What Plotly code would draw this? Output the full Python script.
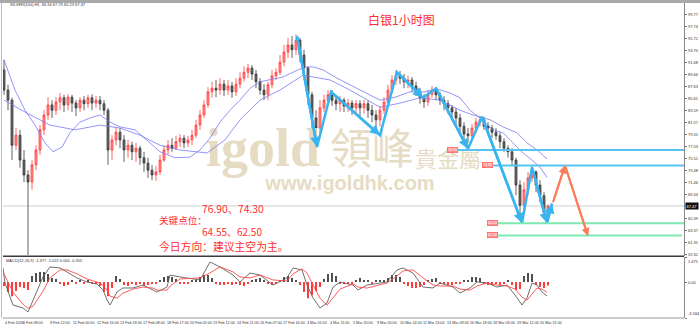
import plotly.graph_objects as go

# ---------------- data ----------------
FIRST_OPEN = 90.4
CLOSE = [87.0, 85.3, 77.7, 79.4, 75.2, 72.7, 71.5, 74.4, 76.9, 80.3,
         82.8, 84.5, 83.6, 85.0, 85.7, 84.5, 85.8, 84.8, 84.0, 85.3,
         84.7, 85.7, 84.8, 85.3, 84.7, 83.6, 76.9, 78.6, 79.9, 78.6,
         76.9, 77.7, 76.6, 77.2, 75.6, 74.7, 73.5, 72.7, 73.2, 75.2,
         76.9, 77.7, 77.2, 78.3, 78.9, 78.1, 78.6, 79.4, 81.1, 82.8,
         84.5, 86.7, 87.3, 87.0, 88.0, 87.0, 87.7, 86.7, 88.0, 89.0,
         90.0, 90.7, 89.7, 88.4, 87.0, 86.2, 87.9, 89.4, 90.0, 91.7,
         93.4, 94.6, 93.8, 95.4, 92.9, 90.7, 86.2, 82.3, 80.6, 84.0,
         85.3, 86.2, 85.3, 84.7, 85.3, 84.3, 84.8, 84.0, 84.7, 84.0,
         84.7, 83.6, 82.8, 82.0, 83.6, 85.0, 87.0, 88.7, 89.5, 89.0,
         88.4, 88.7, 87.7, 86.7, 85.7, 85.0, 86.3, 87.0, 86.2, 85.3,
         84.7, 84.0, 83.3, 82.3, 80.9, 79.6, 79.3, 80.6, 81.6, 82.0,
         80.9, 80.6, 79.9, 79.3, 78.3, 77.2, 76.6, 75.2, 71.0, 67.6,
         70.2, 72.2, 73.2, 71.0, 69.2, 66.34, 67.47]
HIGH = [92.1, 87.9, 85.7, 80.6, 80.3, 76.9, 73.5, 75.2, 77.7, 81.1,
        83.6, 85.8, 85.3, 85.8, 86.5, 86.2, 86.3, 86.2, 85.3, 85.8,
        86.0, 86.2, 86.3, 86.0, 86.0, 85.3, 84.0, 79.4, 80.8, 80.6,
        79.4, 78.6, 78.3, 78.1, 77.6, 76.6, 75.6, 74.4, 74.2, 76.1,
        77.7, 78.6, 78.9, 79.3, 79.6, 79.4, 79.3, 80.3, 82.0, 83.6,
        85.3, 87.5, 88.4, 88.7, 89.0, 88.7, 88.7, 88.4, 89.0, 90.0,
        91.0, 91.4, 91.2, 90.4, 89.0, 88.0, 88.4, 90.4, 90.7, 92.9,
        94.6, 95.8, 96.1, 96.4, 95.8, 93.8, 91.0, 86.7, 83.6, 85.3,
        86.2, 87.0, 87.0, 86.0, 86.0, 85.7, 85.5, 85.3, 85.3, 85.3,
        85.3, 85.2, 84.5, 83.6, 84.3, 85.8, 87.9, 89.5, 90.4, 90.2,
        89.7, 89.4, 89.2, 88.4, 87.3, 86.3, 87.0, 87.7, 87.5, 86.7,
        86.0, 85.3, 84.5, 84.0, 83.0, 81.6, 80.6, 81.3, 82.3, 82.6,
        82.5, 81.6, 81.1, 80.6, 79.9, 78.9, 77.7, 77.2, 75.6, 71.8,
        71.5, 73.2, 74.2, 73.5, 71.8, 69.8, 67.73]
LOW = [86.2, 83.6, 75.2, 76.9, 73.9, 71.5, 59.2, 70.2, 73.5, 76.1,
       79.4, 82.0, 82.3, 82.8, 83.6, 83.3, 83.6, 83.3, 82.6, 83.3,
       83.6, 84.0, 83.6, 84.0, 83.6, 82.8, 74.4, 75.2, 77.7, 77.2,
       74.9, 75.6, 75.2, 74.9, 74.4, 73.2, 72.2, 71.8, 71.7, 72.7,
       74.9, 76.1, 76.6, 76.9, 77.4, 77.2, 77.4, 77.7, 78.9, 80.3,
       82.3, 84.0, 85.7, 85.8, 86.2, 86.0, 86.2, 85.7, 86.0, 87.3,
       88.4, 89.0, 88.7, 87.3, 86.2, 85.3, 85.3, 87.3, 88.7, 89.5,
       91.0, 92.4, 92.4, 92.9, 91.7, 89.5, 84.5, 80.3, 78.6, 79.9,
       83.3, 84.5, 84.3, 83.6, 83.3, 83.3, 83.3, 82.8, 83.0, 82.6,
       83.0, 82.3, 81.6, 80.6, 80.9, 83.0, 84.5, 86.5, 87.9, 88.0,
       87.3, 87.3, 86.7, 86.0, 84.7, 84.0, 84.3, 85.7, 85.3, 84.5,
       83.6, 83.0, 82.3, 81.1, 79.9, 78.6, 78.1, 78.6, 79.9, 80.9,
       80.3, 79.6, 78.9, 78.6, 77.2, 76.6, 75.6, 74.4, 69.3, 65.4,
       66.1, 69.3, 71.5, 69.8, 68.1, 65.4, 65.23]

# moving averages (bar index, price)
MA_A_X = [0, 2.75, 5.25, 7.75, 10.25, 12.25, 14.5, 16.5, 19, 21.5, 24, 26.5, 29, 32.75,
          36.5, 39, 42.75, 46.5, 49, 51.5, 54, 56.5, 59, 61.5, 64, 66.5, 69.75, 73.5,
          75.75, 77.25, 79.75, 83.25, 86.5, 90.25, 94, 97.75, 101.5, 105.25, 108.25,
          111.5, 114, 116.5, 119, 122.25, 124.75, 127.25, 129.75, 132, 134, 135.75]
MA_A_Y = [92.1, 87.0, 83.6, 81.1, 78.1, 76.6, 77.4, 79.8, 81.6, 82.3, 82.8, 81.6, 80.8, 80.3,
          78.1, 76.6, 75.6, 75.7, 76.9, 78.9, 81.6, 83.6, 85.3, 87.3, 88.4, 88.7, 89.2, 90.4,
          90.9, 90.9, 90.4, 89.0, 87.9, 86.7, 85.3, 85.8, 86.7, 86.7, 87.2,
          86.5, 85.7, 83.6, 82.3, 80.3, 79.8, 78.1, 76.4, 75.2, 74.0, 72.3]
MA_B_X = [0, 5.25, 11.5, 17.75, 24, 29, 34, 39, 44, 50.75, 55.25, 59, 64, 69, 74.75,
          81.5, 86.5, 94, 99, 104, 109, 114, 117.25, 121.5, 124.75, 128.25, 130.75,
          133.25, 135.75]
MA_B_Y = [85.3, 83.3, 81.1, 80.3, 81.1, 80.6, 79.4, 77.7, 76.9, 76.4, 78.6, 82.0, 85.3,
          87.0, 89.5, 88.7, 87.0, 84.1, 84.8, 85.7, 85.3, 83.6, 82.8, 82.0, 80.8, 79.8,
          78.1, 76.9, 75.4]

# hand-drawn analysis lines
ZIG_X = [73.25, 78.25, 81.75, 94.0, 98.25, 104.75, 108.0, 116.0, 119.5, 129.5, 132.0, 135.75, 137.0]
ZIG_Y = [96.1, 77.4, 86.7, 79.4, 90.0, 85.7, 87.3, 77.1, 82.5, 64.6, 74.0, 64.6, 67.9]
ORANGE_X = [137.25, 140.25, 146.0]
ORANGE_Y = [68.1, 74.3, 62.4]

LEVELS = [76.90, 74.30, 64.55, 62.50]
LEVEL_BOX_BAR = [112.1, 120.9, 122.1, 122.1]
LEVEL_START_BAR = [113.5, 122.3, 123.5, 123.5]
LEVEL_END_BAR = [170.0, 170.0, 170.0, 169.5]
LEVEL_COLORS = ['#55c4f2', '#55c4f2', '#7de8b0', '#7de8b0']
CURRENT_PRICE = 67.47

PRICE_TICKS = [101.79, 99.77, 97.74, 95.72, 93.70, 91.68, 89.66, 87.63, 85.61, 83.59,
               81.57, 79.55, 77.53, 75.51, 73.48, 71.46, 69.44, 65.39, 63.37, 61.35, 59.32]

# MACD panel
MACD_X = [-0.25, 0.25, 2.25, 4.75, 6, 7.25, 9.75, 11.5, 14, 15.75, 18.25, 20.75, 23.25, 24.75,
          25.75, 26.5, 28.25, 29.75, 32.25, 34.75, 37.25, 38.25, 40.75, 41.5, 44, 49, 51.5,
          54, 57.25, 59, 61.5, 64, 67.25, 70.75, 72.25, 74.5, 75.75, 77.25, 79, 80.75, 82.25,
          84, 87.25, 88.5, 90.75, 94, 95.75, 98.25, 99.75, 102.25, 104.75, 107.25, 109,
          112.25, 114, 116.5, 118.25, 120.75, 123.25, 125.75, 127.75, 129.5, 130.75, 132,
          133.25, 134.5, 135.75]
MACD_MAIN = [1.39, -0.10, -2.28, -2.57, -2.97, -1.78, 0.50, 1.49, 1.39, 0.99, 0.40, 0.0, -0.20,
             -0.79, -1.78, -2.28, -0.99, -0.59, -0.59, -0.30, -0.79, -0.99, -0.50, 0.69, 0.50,
             0.20, 1.98, 1.49, 0.69, 0.0, 0.89, 0.69, -0.30, 0.40, 1.39, 1.19, -0.30, -1.58,
             -2.57, -2.08, -0.50, 0.0, -0.30, -0.79, -0.30, -0.10, 0.0, 1.19, 1.39, 0.89,
             -0.50, -0.59, -0.10, -0.50, -1.09, -0.59, 0.0, -0.10, -0.50, -0.30, -1.29,
             -2.28, -1.58, -0.10, -0.30, -0.99, -1.377]
MACD_SIGNAL = [1.0, 0.6, -1.0, -2.2, -2.6, -2.4, -0.9, 0.4, 1.2, 1.2, 0.8, 0.3, 0.0, -0.3,
               -0.8, -1.4, -1.6, -1.1, -0.7, -0.5, -0.6, -0.8, -0.8, -0.4, 0.3, 0.4, 0.9,
               1.5, 1.0, 0.5, 0.4, 0.7, 0.2, 0.1, 0.8, 1.3, 0.9, -0.3, -1.6, -2.3, -1.6,
               -0.7, -0.2, -0.5, -0.6, -0.3, -0.1, 0.6, 1.1, 1.2, 0.4, -0.3, -0.4, -0.4,
               -0.7, -0.8, -0.4, -0.1, -0.3, -0.4, -0.7, -1.5, -1.8, -1.2, -0.6, -0.7, -1.022]
MACD_HIST = [-0.4, -1.0, -1.4, -0.9, -0.5, -0.6, -0.8, 0.6, 0.9, 1.0,
             1.0, 0.8, 0.4, 0.3, -0.2, -0.4, -0.3, 0.1, -0.1, 0.1,
             -0.1, 0.1, -0.1, -0.2, -0.4, -1.0, -1.4, -0.6, 0.6, 0.3,
             -0.3, -0.4, -0.2, -0.3, -0.2, -0.4, -0.3, -0.2, -0.2, 0.2,
             0.5, 0.6, 0.5, 0.3, -0.1, -0.2, -0.1, 0.1, 0.2, 0.5,
             0.7, 0.7, 0.4, -0.2, -0.3, -0.3, -0.2, -0.3, -0.2, -0.3,
             -0.4, -0.2, 0.1, 0.3, 0.4, 0.2, -0.2, -0.3, -0.1, 0.2,
             0.5, 0.6, 0.4, 0.1, -0.3, -1.0, -1.6, -1.3, -0.9, -0.5,
             0.3, 0.8, 0.9, 0.6, -0.1, -0.2, -0.2, -0.1, 0.2, 0.4,
             0.2, 0.1, -0.1, 0.1, 0.1, 0.2, 0.4, 0.7, 0.7, 0.5,
             -0.2, -0.4, -0.6, -0.6, -0.5, -0.3, 0.1, 0.3, 0.4, -0.1,
             -0.2, -0.3, -0.3, -0.2, -0.1, 0.1, 0.2, 0.5, 0.5, 0.4,
             -0.1, -0.3, -0.3, -0.2, -0.3, -0.1, 0.1, -0.3, -0.8, -0.7,
             0.6, 0.9, 0.8, -0.3, -0.5, -0.6, -0.355]
MACD_TOP, MACD_BOTTOM = 2.475, -3.564

TIME_LABELS = ['4 Feb 2026', '6 Feb 08:00', '9 Feb 12:00', '11 Feb 00:00', '12 Feb 16:00',
               '13 Feb 19:00', '17 Feb 08:00', '18 Feb 17:00', '20 Feb 02:00', '23 Feb 12:00',
               '24 Feb 21:00', '26 Feb 07:00', '27 Feb 16:00', '3 Mar 01:00', '4 Mar 11:00',
               '5 Mar 20:00', '9 Mar 05:00', '10 Mar 14:00', '11 Mar 23:00', '13 Mar 09:00',
               '16 Mar 18:00', '18 Mar 03:00', '19 Mar 12:00', '20 Mar 21:00']
TIME_BARS = [-0.25, 4.2, 11.0, 16.8, 22.7, 28.5, 34.3, 40.2, 46.0, 51.8, 57.7, 63.5,
             69.3, 75.2, 81.0, 86.8, 92.7, 98.5, 104.3, 110.2, 116.0, 121.8, 127.7, 133.5]

# ---------------- geometry helpers ----------------
W, H = 700, 328
ML, MR, MT, MB = 3, 16, 3, 10
PW, PH = W - ML - MR, H - MT - MB
X0, X1 = -0.25, 170.0
P0, P1 = 59.04, 101.67


def px(x):
    return (x - ML) / PW


def py(y):
    return (H - MB - y) / PH


def bar_at(x):
    return X0 + (x - ML) / PW * (X1 - X0)


def price_at(y):
    return P1 - (y - 3) / (256 - 3) * (P1 - P0)


N = len(CLOSE)
BARS = list(range(N))
OPEN = [FIRST_OPEN] + CLOSE[:-1]

fig = go.Figure()

# watermark (behind the candles)
WM = '#e6dcc4'
fig.add_trace(go.Scatter(x=[bar_at(263)], y=[price_at(152)], mode='text', text=['igold'],
                         textfont=dict(family='Liberation Serif', size=54, color=WM, weight='bold'),
                         hoverinfo='skip'))
fig.add_trace(go.Scatter(x=[bar_at(372)], y=[price_at(153)], mode='text', text=['領峰'],
                         textfont=dict(family='Noto Sans CJK TC', size=42, color=WM),
                         hoverinfo='skip'))
fig.add_trace(go.Scatter(x=[bar_at(448)], y=[price_at(161)], mode='text', text=['貴金屬'],
                         textfont=dict(family='Noto Sans CJK TC', size=22, color=WM),
                         hoverinfo='skip'))
fig.add_trace(go.Scatter(x=[bar_at(350)], y=[price_at(185)], mode='text', text=['www.igoldhk.com'],
                         textfont=dict(family='Liberation Sans', size=20, color=WM, weight='bold'),
                         hoverinfo='skip'))

# moving averages
for xs, ys in ((MA_A_X, MA_A_Y), (MA_B_X, MA_B_Y)):
    fig.add_trace(go.Scatter(x=xs, y=ys, mode='lines', line=dict(color='#7b78f5', width=0.8),
                             hoverinfo='skip'))

# candles
fig.add_trace(go.Candlestick(
    x=BARS, open=OPEN, high=HIGH, low=LOW, close=CLOSE,
    increasing=dict(line=dict(color='#ff4040', width=0.8), fillcolor='#ff8c8c'),
    decreasing=dict(line=dict(color='#3a3a3a', width=0.8), fillcolor='#6a6a6a'),
    whiskerwidth=0, hoverinfo='skip'))

# analysis lines
fig.add_trace(go.Scatter(x=ZIG_X, y=ZIG_Y, mode='lines', line=dict(color='#38b4f0', width=2.5),
                         hoverinfo='skip'))
fig.add_trace(go.Scatter(x=ORANGE_X, y=ORANGE_Y, mode='lines', line=dict(color='#fb7d55', width=2),
                         hoverinfo='skip'))

# MACD
fig.add_trace(go.Bar(x=BARS, y=MACD_HIST, xaxis='x2', yaxis='y2', width=0.5,
                     marker=dict(color=['#505050' if v >= 0 else '#ff3b3b' for v in MACD_HIST],
                                 line=dict(width=0)), hoverinfo='skip'))
fig.add_trace(go.Scatter(x=MACD_X, y=MACD_MAIN, xaxis='x2', yaxis='y2', mode='lines',
                         line=dict(color='#606060', width=0.9), hoverinfo='skip'))
fig.add_trace(go.Scatter(x=MACD_X, y=MACD_SIGNAL, xaxis='x2', yaxis='y2', mode='lines',
                         line=dict(color='#ff4a4a', width=0.9), hoverinfo='skip'))

shapes = []
ann = []
# frame pieces
shapes.append(dict(type='rect', xref='paper', yref='paper', x0=-0.01, x1=1.03,
                   y0=1, y1=py(0), fillcolor='#a9a9a9', line=dict(width=0), layer='above'))
shapes.append(dict(type='line', xref='paper', yref='paper', x0=px(1.5), x1=px(1.5),
                   y0=py(318), y1=1, line=dict(color='#bdbdbd', width=1)))
shapes.append(dict(type='line', xref='paper', yref='paper', x0=0, x1=1,
                   y0=py(256.3), y1=py(256.3), line=dict(color='#3a3a3a', width=1.6)))
shapes.append(dict(type='line', xref='paper', yref='paper', x0=0, x1=1,
                   y0=0, y1=0, line=dict(color='#9a9a9a', width=1)))
# current price line
shapes.append(dict(type='line', xref='paper', yref='y', x0=0, x1=1, y0=CURRENT_PRICE,
                   y1=CURRENT_PRICE, line=dict(color='#cfcfcf', width=1), layer='below'))
# key levels
for lv, b, s, e, c in zip(LEVELS, LEVEL_BOX_BAR, LEVEL_START_BAR, LEVEL_END_BAR, LEVEL_COLORS):
    shapes.append(dict(type='line', xref='x', yref='y', x0=s, x1=e, y0=lv, y1=lv,
                       line=dict(color=c, width=2)))
    ann.append(dict(x=b, y=lv, xref='x', yref='y', text=f'{lv:.2f}', showarrow=False,
                    xanchor='center', yanchor='middle',
                    font=dict(size=3.6, color='#ffffff', family='Liberation Sans'),
                    bgcolor='#ff9090', bordercolor='#ff5050', borderwidth=0.6, borderpad=0.4))


# arrowheads on the zigzag / orange path
def arrow(x0, y0, x1, y1, color, width):
    ann.append(dict(x=x1, y=y1, ax=x0, ay=y0, xref='x', yref='y', axref='x', ayref='y',
                    text='', showarrow=True, arrowhead=2, arrowsize=0.8, arrowwidth=width,
                    arrowcolor=color))


for k in (0, 2, 4, 6, 8, 10):
    arrow(ZIG_X[k], ZIG_Y[k], ZIG_X[k + 1], ZIG_Y[k + 1], '#38b4f0', 2.5)
arrow(ZIG_X[11], ZIG_Y[11], ZIG_X[12], ZIG_Y[12], '#38b4f0', 2.5)
arrow(ORANGE_X[0], ORANGE_Y[0], ORANGE_X[1], ORANGE_Y[1], '#fb7d55', 2)
arrow(ORANGE_X[1], ORANGE_Y[1], ORANGE_X[2], ORANGE_Y[2], '#fb7d55', 2)

# right axis labels
AX_FONT = dict(size=4.0, color='#333333', family='Liberation Sans')
for v in PRICE_TICKS:
    ann.append(dict(x=px(686), y=v, xref='paper', yref='y', text=f'{v:.2f}', xanchor='left',
                    yanchor='middle', showarrow=False, font=AX_FONT))
ann.append(dict(x=px(685), y=CURRENT_PRICE, xref='paper', yref='y', text=f'{CURRENT_PRICE:.2f}',
                xanchor='left', yanchor='middle', showarrow=False,
                font=dict(size=4.0, color='#ffffff', family='Liberation Sans'),
                bgcolor='#111111', borderpad=0.5))
ann.append(dict(x=px(686), y=MACD_TOP, xref='paper', yref='y2', text=f'{MACD_TOP:.3f}',
                xanchor='left', yanchor='top', showarrow=False, font=AX_FONT))
ann.append(dict(x=px(686), y=0.0, xref='paper', yref='y2', text='0.00',
                xanchor='left', yanchor='middle', showarrow=False, font=AX_FONT))
ann.append(dict(x=px(686), y=MACD_BOTTOM, xref='paper', yref='y2', text=f'{MACD_BOTTOM:.3f}',
                xanchor='left', yanchor='bottom', showarrow=False, font=AX_FONT))
# time labels
for b, t in zip(TIME_BARS, TIME_LABELS):
    ann.append(dict(x=b, y=py(322.5), xref='x2', yref='paper', text=t, xanchor='left',
                    yanchor='middle', showarrow=False, font=dict(size=3.7, color='#333333',
                                                                  family='Liberation Sans')))

# panel captions
ann.append(dict(x=px(8), y=py(5), xref='paper', yref='paper', xanchor='left', yanchor='middle',
                text='SILVER(100),H1  66.34 67.73 65.23 67.47', showarrow=False, font=AX_FONT))
ann.append(dict(x=px(4), y=py(260.5), xref='paper', yref='paper', xanchor='left', yanchor='middle',
                text='MACD(12,26,9) -1.377 -1.022 0.000 -0.355', showarrow=False, font=AX_FONT))

# red commentary
RED = '#ff2d2d'
CJK = 'Noto Sans CJK SC'
ann.append(dict(x=px(401), y=py(19), xref='paper', yref='paper', text='白银1小时图', showarrow=False,
                xanchor='center', yanchor='middle', font=dict(size=12, color=RED, family=CJK)))
ann.append(dict(x=px(200), y=py(208.5), xref='paper', yref='paper', xanchor='left', yanchor='middle',
                text='76.90、74.30', showarrow=False, font=dict(size=10.3, color=RED, family=CJK)))
ann.append(dict(x=px(157), y=py(219.5), xref='paper', yref='paper', xanchor='left', yanchor='middle',
                text='关键点位：', showarrow=False, font=dict(size=9.6, color=RED, family=CJK)))
ann.append(dict(x=px(200), y=py(231), xref='paper', yref='paper', xanchor='left', yanchor='middle',
                text='64.55、62.50', showarrow=False, font=dict(size=10, color=RED, family=CJK)))
ann.append(dict(x=px(157), y=py(245.5), xref='paper', yref='paper', xanchor='left', yanchor='middle',
                text='今日方向：建议主空为主。', showarrow=False, font=dict(size=10.8, color=RED, family=CJK)))

fig.update_layout(
    width=W, height=H, margin=dict(l=ML, r=MR, t=MT, b=MB),
    paper_bgcolor='white', plot_bgcolor='white', showlegend=False,
    shapes=shapes, annotations=ann,
    xaxis=dict(domain=[0, 1], range=[X0, X1], anchor='y', showticklabels=False, showgrid=False,
               zeroline=False, rangeslider=dict(visible=False), ticks=''),
    xaxis2=dict(domain=[0, 1], range=[X0, X1], anchor='y2', showticklabels=False, showgrid=False,
                zeroline=False, ticks=''),
    yaxis=dict(domain=[py(256), 1], range=[P0, P1], side='right', showgrid=False, zeroline=False,
               showticklabels=False, tickvals=PRICE_TICKS + [CURRENT_PRICE], ticks='outside',
               ticklen=2, tickcolor='#777777', showline=True, linecolor='#8a8a8a', linewidth=1),
    yaxis2=dict(domain=[0, py(257)], range=[MACD_BOTTOM, MACD_TOP], side='right', showgrid=False,
                zeroline=False, showticklabels=False, tickvals=[MACD_TOP, 0, MACD_BOTTOM],
                ticks='outside', ticklen=2, tickcolor='#777777', showline=True,
                linecolor='#8a8a8a', linewidth=1),
)

fig.write_html('out.html')
